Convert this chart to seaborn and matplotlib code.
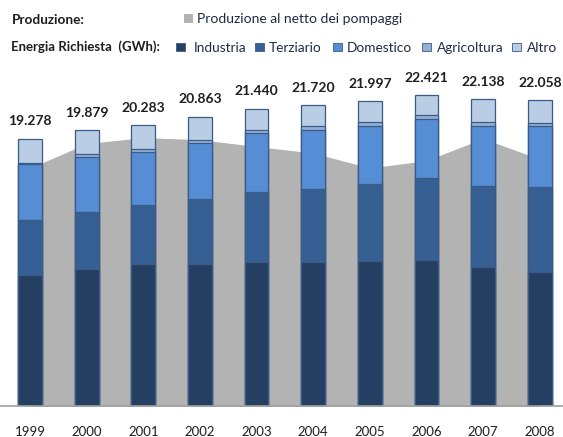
import numpy as np
import pandas as pd
import seaborn as sns
import matplotlib.pyplot as plt
from matplotlib.patches import Rectangle

# data (GWh)
anni = ["1999", "2000", "2001", "2002", "2003", "2004", "2005", "2006", "2007", "2008"]
industria = [9475, 9885, 10245, 10245, 10388, 10388, 10468, 10540, 10014, 9698]
terziario = [3957, 4144, 4266, 4698, 5079, 5273, 5518, 5878, 5871, 6115]
domestico = [4007, 3957, 3835, 4007, 4201, 4245, 4216, 4245, 4295, 4367]
agricoltura = [115, 173, 194, 250, 200, 250, 250, 300, 300, 250]
altro = [1724, 1720, 1743, 1663, 1572, 1564, 1545, 1458, 1658, 1628]
totale = [19278, 19879, 20283, 20863, 21440, 21720, 21997, 22421, 22138, 22058]
produzione = [17160, 18920, 19350, 19200, 18710, 18240, 17160, 17700, 19280, 17800]

serie = ["Industria", "Terziario", "Domestico", "Agricoltura", "Altro"]
colori = ["#243F62", "#365F93", "#558ED5", "#95B0D3", "#B9CDE5"]
grigio = "#B3B3B3"
bordo = "#3B5A85"

df = pd.DataFrame({"anno": anni, "Industria": industria, "Terziario": terziario,
                   "Domestico": domestico, "Agricoltura": agricoltura, "Altro": altro})
cum = df[serie].cumsum(axis=1)

sns.set_style("white")
plt.rcParams["font.family"] = ["Lato", "DejaVu Sans"]

fig = plt.figure(figsize=(5.63, 4.37), dpi=100)
ax = fig.add_axes([0, 0.0698, 1, 0.795])

# grey area: production net of pumping
x = np.arange(len(anni))
ax.fill_between(x, produzione, color=grigio, lw=0, zorder=0)

# stacked bars, drawn from the top layer down
for nome, col in reversed(list(zip(serie, colori))):
    sns.barplot(x=df["anno"], y=cum[nome], color=col, width=0.42,
                edgecolor=bordo, linewidth=0.9, saturation=1, ax=ax, zorder=2)

for i, tot in enumerate(totale):
    etichetta = f"{tot:,}".replace(",", ".")
    ax.annotate(etichetta, (i, tot), xytext=(0, 8), textcoords="offset points",
                ha="center", va="bottom", fontsize=10, fontweight="bold", color="#1E1E1E")

ax.set_xlim(-0.53, 9.41)
ax.set_ylim(0, 25000)
ax.set_xlabel("")
ax.set_ylabel("")
ax.set_yticks([])
for s in ["top", "left", "right"]:
    ax.spines[s].set_visible(False)
ax.spines["bottom"].set_color("#A0A0A0")
ax.spines["bottom"].set_linewidth(1.2)
ax.tick_params(axis="x", length=0, pad=14, labelsize=9.5, labelcolor="#1E1E1E")

# header / legend
W, H = 563, 437
def fx(px):
    return px / W
def fy(py):
    return (H - py) / H

fig.text(fx(12), fy(20), "Produzione:", fontsize=9.8, fontweight="bold", va="center", color="#1E1E1E")
fig.patches.append(Rectangle((fx(184), fy(23)), 9 / W, 9 / H, transform=fig.transFigure,
                             facecolor=grigio, edgecolor="none"))
fig.text(fx(197), fy(19), "Produzione al netto dei pompaggi", fontsize=10, va="center", color="#1F2A44")

fig.text(fx(11), fy(47), "Energia Richiesta  (GWh):", fontsize=9.5, fontweight="bold", va="center", color="#1E1E1E")
pos_quadrato = [176, 255, 333, 422, 512]
pos_testo = [194, 269, 347, 437, 527]
for nome, col, qx, tx in zip(serie, colori, pos_quadrato, pos_testo):
    fig.patches.append(Rectangle((fx(qx), fy(51)), 9 / W, 8 / H, transform=fig.transFigure,
                                 facecolor=col, edgecolor=bordo, linewidth=0.6))
    fig.text(fx(tx), fy(48), nome, fontsize=9.8, va="center", color="#1F2A44")

fig.savefig("out.png", dpi=100)
